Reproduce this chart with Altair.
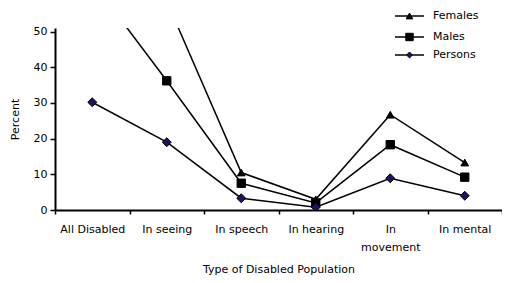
import altair as alt
import pandas as pd

categories = ["All Disabled", "In seeing", "In speech", "In hearing", "In movement", "In mental"]
series_names = ["Females", "Males", "Persons"]
females = [90, 58.5, 10.5, 3.0, 26.7, 13.3]
males = [64, 36.2, 7.5, 2.0, 18.3, 9.2]
persons = [30.2, 19.0, 3.3, 0.8, 8.9, 4.0]
y_ticks = [0, 10, 20, 30, 40, 50]

rows = []
for name, vals in zip(series_names, [females, males, persons]):
    for c, v in zip(categories, vals):
        rows.append({"category": c, "series": name, "value": v})
df = pd.DataFrame(rows)

FONT = "DejaVu Sans"

x_enc = alt.X(
    "category:N",
    sort=categories,
    scale=alt.Scale(type="band", paddingInner=0, paddingOuter=0),
    axis=alt.Axis(
        title="Type of Disabled Population",
        labelAngle=0,
        tickBand="extent",
        labelExpr="datum.label == 'In movement' ? ['In', 'movement'] : datum.label",
        labelLineHeight=18,
        labelPadding=9,
        tickSize=4,
        titlePadding=11,
    ),
)
y_enc = alt.Y(
    "value:Q",
    scale=alt.Scale(domain=[0, 51], nice=False),
    axis=alt.Axis(
        title="Percent",
        values=y_ticks,
        tickSize=5,
        labelPadding=3,
        titlePadding=13,
    ),
)

base = alt.Chart(df)
lines = base.mark_line(color="black", strokeWidth=1.5, clip=True).encode(
    x=x_enc, y=y_enc, detail="series:N"
)
points = base.mark_point(filled=True, clip=True, stroke="black", strokeWidth=1, opacity=1).encode(
    x=x_enc,
    y=y_enc,
    shape=alt.Shape("series:N", scale=alt.Scale(domain=series_names, range=["triangle-up", "square", "diamond"]), legend=None),
    fill=alt.Fill("series:N", scale=alt.Scale(domain=series_names, range=["black", "black", "#1b1464"]), legend=None),
    size=alt.Size("series:O", scale=alt.Scale(domain=series_names, range=[60, 80, 45]), legend=None),
)

layers = [lines, points]
legend_y = [-12, 9, 27]
legend_shapes = ["triangle-up", "square", "diamond"]
legend_fill = ["black", "black", "#1b1464"]
legend_size = [45, 55, 35]
for name, ly, shp, fc, sz in zip(series_names, legend_y, legend_shapes, legend_fill, legend_size):
    ldf = pd.DataFrame({"series": [name]})
    lc = alt.Chart(ldf)
    layers.append(lc.mark_rule(color="black", strokeWidth=1.5).encode(
        x=alt.value(340), x2=alt.value(369), y=alt.value(ly)))
    layers.append(lc.mark_point(filled=True, stroke="black", strokeWidth=1, opacity=1, fill=fc, shape=shp, size=sz).encode(
        x=alt.value(354.5), y=alt.value(ly)))
    layers.append(lc.mark_text(align="left", baseline="middle", font=FONT, fontSize=11, color="black").encode(
        x=alt.value(378), y=alt.value(ly), text="series:N"))

chart = alt.layer(*layers).properties(
    width=447,
    height=182,
    autosize=alt.AutoSizeParams(type="none"),
    padding={"left": 47, "top": 20, "right": 0, "bottom": 65},
).configure(
    background="white",
    view=alt.ViewConfig(stroke=None),
    axis=alt.AxisConfig(
        grid=False,
        domainColor="black",
        domainWidth=2,
        tickColor="black",
        tickWidth=1.5,
        labelFont=FONT,
        labelFontSize=11,
        labelColor="black",
        titleFont=FONT,
        titleFontSize=11,
        titleFontWeight="normal",
        titleColor="black",
    ),
)

chart.save("out.html", embed_options={"renderer": "svg", "actions": False})
